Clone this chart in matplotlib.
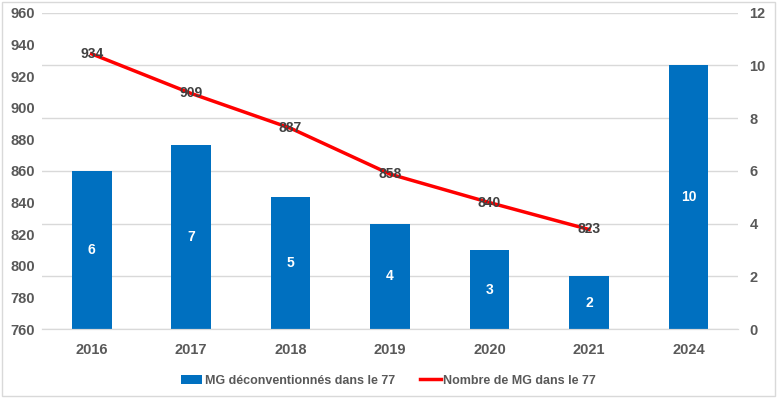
import numpy as np
import matplotlib.pyplot as plt
from matplotlib.patches import Rectangle

years = ["2016", "2017", "2018", "2019", "2020", "2021", "2024"]
deconv = [6, 7, 5, 4, 3, 2, 10]
line_years = ["2016", "2017", "2018", "2019", "2020", "2021"]
nb_mg = [934, 909, 887, 858, 840, 823]

plt.rcParams['font.family'] = ['Liberation Sans', 'DejaVu Sans']
txt = '#595959'

fig = plt.figure(figsize=(7.77, 3.98), dpi=100)
fig.patches.append(Rectangle((0.002, 0.004), 0.996, 0.992, transform=fig.transFigure,
                             fill=False, edgecolor='#d9d9d9', lw=1))

ax = fig.add_axes([0.054, 0.173, 0.896, 0.795])
ax2 = ax.twinx()

x = np.arange(len(years))
bars = ax2.bar(x, deconv, width=0.4, color='#0070c0', label='MG déconventionnés dans le 77', zorder=2)
for xi, v in zip(x, deconv):
    ax2.text(xi, v / 2, str(v), ha='center', va='center', color='white',
             fontsize=10, fontweight='bold')

lx = np.arange(len(line_years))
ln, = ax.plot(lx, nb_mg, color='#ff0000', lw=2.5, label='Nombre de MG dans le 77', zorder=3)
for xi, v in zip(lx, nb_mg):
    ax.text(xi, v, str(v), ha='center', va='center', color='#404040',
            fontsize=10, fontweight='bold', zorder=4)

ax.set_ylim(760, 960)
ax.set_yticks(range(760, 961, 20))
ax2.set_ylim(0, 12)
ax2.set_yticks(range(0, 13, 2))
ax.set_xlim(-0.5, len(years) - 0.5)
ax.set_xticks(x)
ax.set_xticklabels(years)

# bars behind the line
ax.set_zorder(ax2.get_zorder() + 1)
ax.patch.set_visible(False)

ax2.grid(axis='y', color='#d9d9d9', lw=1, zorder=0)
ax2.set_axisbelow(True)

for a in (ax, ax2):
    for s in ('top', 'left', 'right'):
        a.spines[s].set_visible(False)
    a.spines['bottom'].set_color('#d9d9d9')
    a.tick_params(length=0, labelsize=10.5, colors=txt)
    for lab in a.get_xticklabels() + a.get_yticklabels():
        lab.set_fontweight('bold')
ax.tick_params(axis='y', pad=5)
ax2.tick_params(axis='y', pad=8)
ax.tick_params(axis='x', pad=10)

leg = fig.legend([bars, ln], [bars.get_label(), ln.get_label()], loc='lower center',
                 bbox_to_anchor=(0.5, 0.0), ncol=2, frameon=False, fontsize=9,
                 handlelength=1.7, columnspacing=2.0, handletextpad=0.2)
for t in leg.get_texts():
    t.set_color(txt)
    t.set_fontweight('bold')

fig.savefig("out.png", dpi=100)
